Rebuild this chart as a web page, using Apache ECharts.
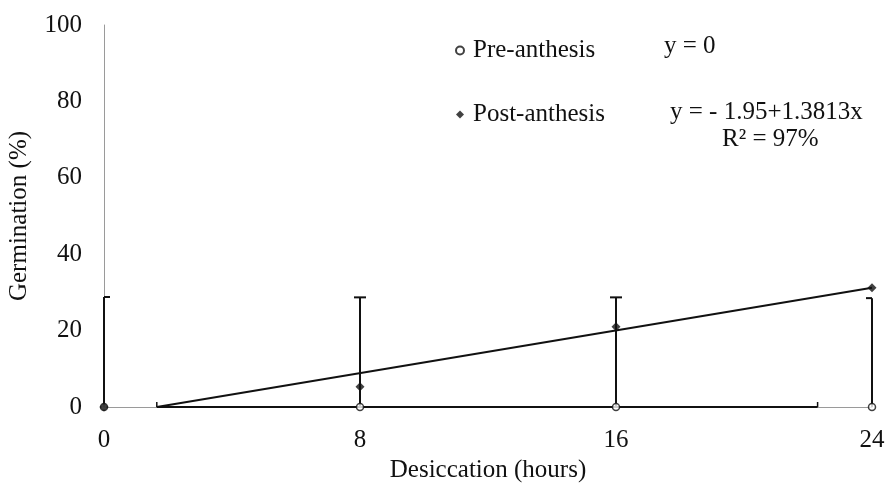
<!DOCTYPE html>
<html>
<head>
<meta charset="utf-8">
<script src="https://cdn.jsdelivr.net/npm/echarts@6/dist/echarts.min.js"></script>
<style>html,body{margin:0;padding:0;background:#fff}#c{width:885px;height:488px}</style>
</head>
<body>
<div id="c"></div>
<script>
// ---- data ----
const xTicks = [0, 8, 16, 24];
const preY = [0, 0, 0, 0];
const postY = [0, 5.3, 21, 31.2];
const errLow = [0, 0, 0, 0];
const errHigh = [28.8, 28.7, 28.7, 28.5];
const capSide = ['right', 'both', 'both', 'left'];
const regX = [1.65, 24];
const regY = [0, 31.2];
const hbarX = [1.65, 22.3];
const hbarY = [0, 0];
const yTicks = [0, 20, 40, 60, 80, 100];

const FONT = '"Liberation Serif", "Times New Roman", serif';
const INK = '#111';

const chart = echarts.init(document.getElementById('c'), null, {renderer: 'canvas'});

const errData = xTicks.map((x, i) => [x, errLow[i], errHigh[i], i]);
const preData = xTicks.map((x, i) => [x, preY[i]]);
const postData = xTicks.map((x, i) => [x, postY[i]]);
const regData = regX.map((x, i) => [x, regY[i]]);
const hbarData = hbarX.map((x, i) => [x, hbarY[i]]);

const option = {
  animation: false,
  backgroundColor: '#fff',
  grid: {left: 104, right: 13, top: 25, bottom: 81, containLabel: false, outerBoundsMode: 'none'},
  xAxis: {
    type: 'value', min: 0, max: 24, interval: 8,
    name: 'Desiccation (hours)', nameLocation: 'middle', nameGap: 46,
    nameTextStyle: {fontFamily: FONT, fontSize: 25, color: INK},
    axisLine: {show: true, lineStyle: {color: '#9a9a9a', width: 1}},
    axisTick: {show: false}, splitLine: {show: false},
    axisLabel: {fontFamily: FONT, fontSize: 25, color: INK, margin: 21}
  },
  yAxis: {
    type: 'value', min: 0, max: 100, interval: 20,
    name: 'Germination (%)', nameLocation: 'middle', nameGap: 72,
    nameTextStyle: {fontFamily: FONT, fontSize: 25, color: INK},
    axisLine: {show: true, lineStyle: {color: '#9a9a9a', width: 1}},
    axisTick: {show: false}, splitLine: {show: false},
    axisLabel: {fontFamily: FONT, fontSize: 25, color: INK, margin: 22,
      formatter: v => yTicks.indexOf(v) >= 0 ? String(v) : ''}
  },
  legend: {
    orient: 'vertical', left: 450, top: 33, itemGap: 39,
    itemWidth: 8, itemHeight: 8,
    textStyle: {fontFamily: FONT, fontSize: 25, color: INK, padding: [0,0,0,4]},
    data: [
      {name: 'Pre-anthesis', icon: 'circle'},
      {name: 'Post-anthesis', icon: 'diamond'}
    ]
  },
  graphic: [
    {type: 'text', left: 664, top: 34, style: {text: 'y = 0', font: '25px ' + FONT, fill: INK}},
    {type: 'text', left: 670, top: 100, style: {text: 'y = - 1.95+1.3813x', font: '25px ' + FONT, fill: INK}},
    {type: 'text', left: 722, top: 127, style: {text: 'R² = 97%', font: '25px ' + FONT, fill: INK}}
  ],
  series: [
    {
      name: 'hbar', type: 'custom', z: 3, silent: true,
      renderItem: function (params, api) {
        const a = api.coord([hbarData[0][0], hbarData[0][1]]);
        const b = api.coord([hbarData[1][0], hbarData[1][1]]);
        return {type: 'group', children: [
          {type: 'line', shape: {x1: a[0], y1: a[1], x2: b[0], y2: b[1]}, style: {stroke: INK, lineWidth: 2}},
          {type: 'line', shape: {x1: a[0], y1: a[1], x2: a[0], y2: a[1] - 5}, style: {stroke: INK, lineWidth: 1.5}},
          {type: 'line', shape: {x1: b[0], y1: b[1], x2: b[0], y2: b[1] - 5}, style: {stroke: INK, lineWidth: 1.5}}
        ]};
      },
      data: [0]
    },
    {
      name: 'err', type: 'custom', z: 4, silent: true,
      renderItem: function (params, api) {
        const x = api.value(0), lo = api.value(1), hi = api.value(2), idx = api.value(3);
        const p1 = api.coord([x, lo]);
        const p2 = api.coord([x, hi]);
        const side = capSide[idx];
        const half = 6;
        const cx1 = side === 'right' ? p2[0] : p2[0] - half;
        const cx2 = side === 'left' ? p2[0] : p2[0] + half;
        return {type: 'group', children: [
          {type: 'line', shape: {x1: p1[0], y1: p1[1], x2: p2[0], y2: p2[1]}, style: {stroke: INK, lineWidth: 2}},
          {type: 'line', shape: {x1: cx1, y1: p2[1], x2: cx2, y2: p2[1]}, style: {stroke: INK, lineWidth: 2}}
        ]};
      },
      encode: {x: 0, y: [1, 2]},
      data: errData
    },
    {
      name: 'reg', type: 'line', z: 5, silent: true, symbol: 'none',
      lineStyle: {color: INK, width: 2},
      data: regData
    },
    {
      name: 'Pre-anthesis', type: 'scatter', z: 6,
      symbol: 'circle', symbolSize: 7,
      itemStyle: {color: '#fff', borderColor: INK, borderWidth: 1.5},
      data: preData
    },
    {
      name: 'Post-anthesis', type: 'scatter', z: 7,
      symbol: 'diamond', symbolSize: 9,
      itemStyle: {color: INK},
      data: postData
    }
  ]
};
chart.setOption(option);
</script>
</body>
</html>
